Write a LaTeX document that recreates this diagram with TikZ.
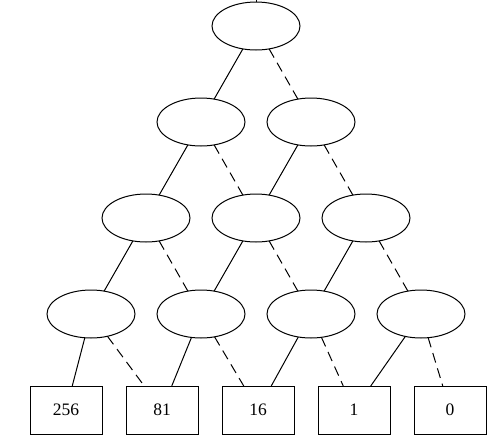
\documentclass[tikz,border=0pt]{standalone}
\usepackage{fontspec}
\setmainfont{Liberation Serif}
\usetikzlibrary{shapes.geometric, positioning}

\begin{document}
\begin{tikzpicture}[
    node distance=48pt,
    oval/.style={ellipse, draw, line width=1pt, minimum width=88pt, minimum height=48pt, inner sep=0pt, outer sep=0pt},
    leaf/.style={rectangle, draw, line width=1pt, minimum width=72pt, minimum height=48pt, inner sep=0pt, outer sep=0pt, font=\fontsize{17.5}{21}\selectfont},
    hi/.style={line width=1pt},
    lo/.style={line width=1pt, dash pattern=on 10pt off 6pt}
]
    \useasboundingbox (0,0) rectangle (491pt,-440pt);
    \coordinate (root) at (256pt,0pt);
    \node[oval] (n0) at (256pt,-26pt) {};

    \node[oval, below=of n0, xshift=-55pt] (n1) {};
    \node[oval, below=of n0, xshift=55pt] (n2) {};

    \node[oval, below=of n1, xshift=-55pt] (n3) {};
    \node[oval, below=of n1, xshift=55pt] (n4) {};
    \node[oval, below=of n2, xshift=55pt] (n5) {};

    \node[oval, below=of n3, xshift=-55pt] (n6) {};
    \node[oval, below=of n3, xshift=55pt] (n7) {};
    \node[oval, below=of n4, xshift=55pt] (n8) {};
    \node[oval, below=of n5, xshift=55pt] (n9) {};

    \node[leaf, below=of n6, xshift=-25pt] (v256) {256};
    \node[leaf, right=24pt of v256] (v81) {81};
    \node[leaf, right=24pt of v81] (v16) {16};
    \node[leaf, right=24pt of v16] (v1) {1};
    \node[leaf, right=24pt of v1] (v0) {0};

    \draw[hi] (root) -- (n0);
    \draw[hi] (n0) -- (n1);
    \draw[lo] (n0) -- (n2);
    \draw[hi] (n1) -- (n3);
    \draw[lo] (n1) -- (n4);
    \draw[hi] (n2) -- (n4);
    \draw[lo] (n2) -- (n5);
    \draw[hi] (n3) -- (n6);
    \draw[lo] (n3) -- (n7);
    \draw[hi] (n4) -- (n7);
    \draw[lo] (n4) -- (n8);
    \draw[hi] (n5) -- (n8);
    \draw[lo] (n5) -- (n9);
    \draw[hi] (n6) -- (v256);
    \draw[lo] (n6) -- (v81);
    \draw[hi] (n7) -- (v81);
    \draw[lo] (n7) -- (v16);
    \draw[hi] (n8) -- (v16);
    \draw[lo] (n8) -- (v1);
    \draw[hi] (n9) -- (v1);
    \draw[lo] (n9) -- (v0);
\end{tikzpicture}
\end{document}
